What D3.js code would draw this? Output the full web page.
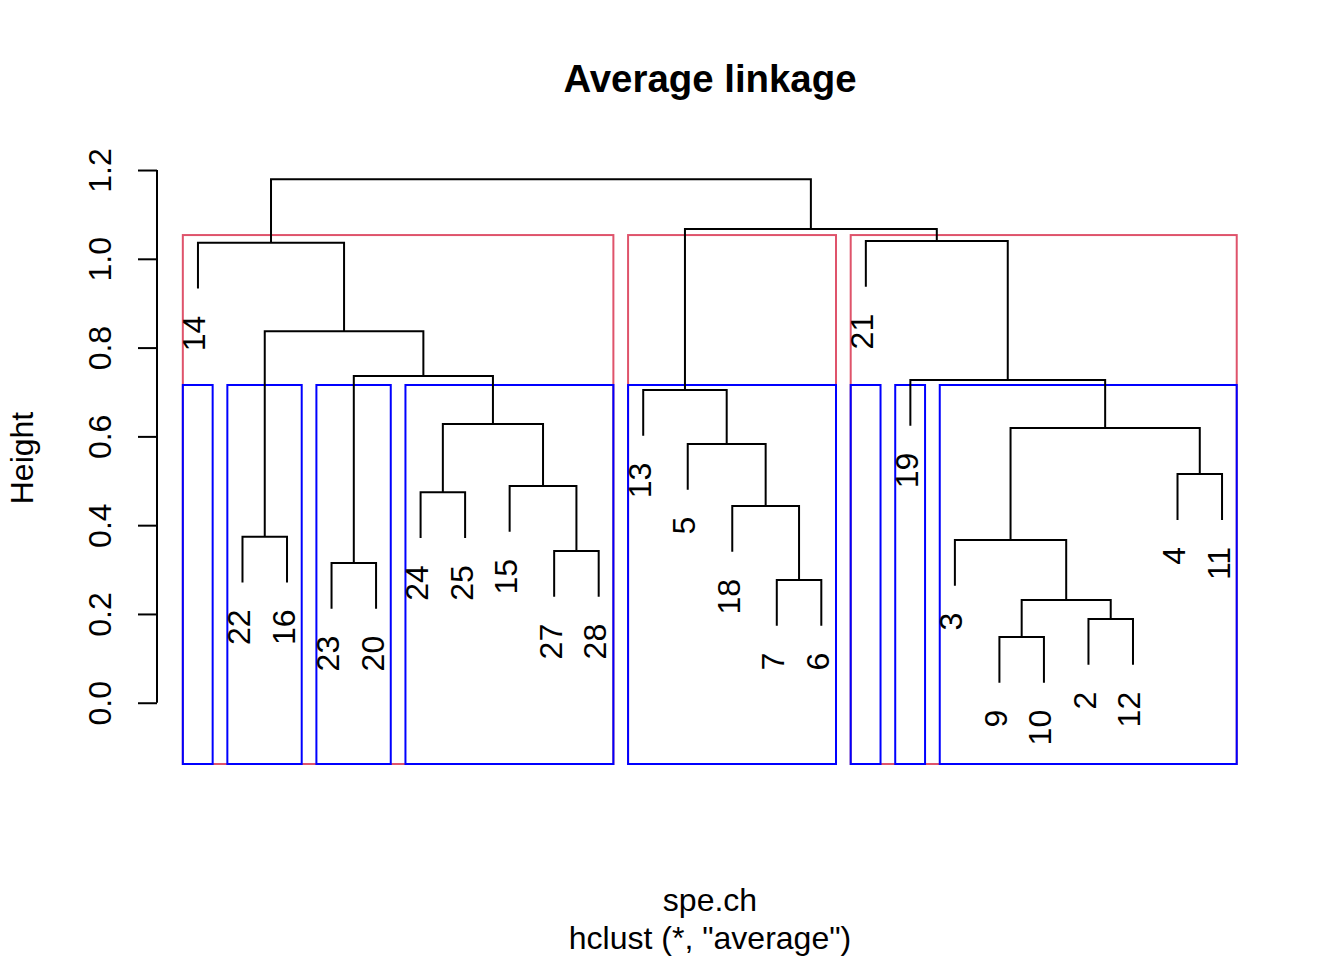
<!DOCTYPE html>
<html><head><meta charset="utf-8">
<script src="https://cdn.jsdelivr.net/npm/d3@7"></script>
<style>
body{margin:0;background:#fff;}
text{font-family:"Liberation Sans",Arial,Helvetica,sans-serif;fill:#000;}
</style>
</head><body><svg id="chart" width="1344" height="960"></svg>
<script>
// ---- data ----
const leafOrder = ["14","22","16","23","20","24","25","15","27","28","13","5","18","7","6","21","19","3","9","10","2","12","4","11"];
// hclust-style merge table: negative = leaf (site id), positive = earlier merge step (1-based)
const mergeLeft  = [-9, -2, 1, -7, -23, -27, -3, -22, -18, -24, -15, -4, -5,  7, 10, -13, -19,  5,  8, -14, -21, 16, 20];
const mergeRight = [-10,-12, 2, -6, -20, -28,  3, -16,   4, -25,   6,-11,  9, 12, 11,  13,  14, 15, 18,  19,  17, 21, 22];
const mergeHeight = [0.148,0.1886,0.2314,0.2764,0.3147,0.3417,0.3666,0.374,0.443,0.474,0.488,0.515,0.583,0.619,0.628,0.7045,0.727,0.736,0.837,1.036,1.040,1.067,1.179];
const yTicks = [0, 0.2, 0.4, 0.6, 0.8, 1.0, 1.2];
const yTickLabels = ["0.0","0.2","0.4","0.6","0.8","1.0","1.2"];
const rectK = [3, 8];
const rectColors = ["#DF536B", "#0000FF"];
const titleText = "Average linkage";
const xLabel = "spe.ch";
const subText = 'hclust (*, "average")';
const yLabel = "Height";

// ---- build tree ----
function ref(v){ return v < 0 ? {label: String(-v), height: 0, leaf: true} : nodes[v-1]; }
const nodes = [];
mergeHeight.forEach((h,i) => {
  nodes.push({height: h, children: [ref(mergeLeft[i]), ref(mergeRight[i])]});
});
const root = d3.hierarchy(nodes[nodes.length-1], d => d.leaf ? null : d.children);

const n = leafOrder.length;
const maxH = d3.max(mergeHeight), minH = d3.min(mergeHeight);
const hang = 0.1 * (maxH - minH);

// ---- scales ----
const x = d3.scaleLinear().domain([1 - 0.04*(n-1), n + 0.04*(n-1)]).range([157, 1263]);
const y = d3.scaleLinear().domain([-0.138, 1.2406]).range([764, 152]);

// positions
root.eachAfter(d => {
  if (!d.children) d.pos = leafOrder.indexOf(d.data.label) + 1;
  else d.pos = (d.children[0].pos + d.children[1].pos) / 2;
});
root.each(d => {
  if (!d.children) d.top = d.parent.data.height - hang;
  else d.top = d.data.height;
});

const svg = d3.select("#chart");

// ---- rect.hclust boxes ----
const sortedH = mergeHeight.slice().sort((a,b)=>b-a);
rectK.forEach((k, ki) => {
  const cutH = (sortedH[k-2] + sortedH[k-1]) / 2;
  const clusters = [];
  (function walk(d){
    if (!d.children || d.data.height < cutH) {
      const ps = d.leaves().map(l => l.pos);
      clusters.push([d3.min(ps), d3.max(ps)]);
    } else d.children.forEach(walk);
  })(root);
  clusters.forEach(([a,b]) => {
    const x0 = x(a - 0.34), x1 = x(b + 0.33);
    svg.append("rect")
      .attr("x", x0).attr("y", y(cutH))
      .attr("width", x1 - x0).attr("height", y.range()[0] - y(cutH))
      .attr("fill", "none").attr("stroke", rectColors[ki]).attr("stroke-width", 2);
  });
});

// ---- dendrogram segments ----
const g = svg.append("g");
root.descendants().filter(d => d.children).forEach(d => {
  const [l, r] = d.children;
  g.append("path")
    .attr("d", `M${x(l.pos)},${y(l.top)}V${y(d.data.height)}H${x(r.pos)}V${y(r.top)}`)
    .attr("fill", "none").attr("stroke", "#000").attr("stroke-width", 2);
});

// leaf labels
root.leaves().forEach(d => {
  svg.append("text")
    .attr("transform", `translate(${x(d.pos) + 7.5},${y(d.top) + 27}) rotate(-90)`)
    .attr("text-anchor", "end")
    .style("font-size", "32px")
    .text(d.data.label);
});

// ---- y axis ----
const axis = d3.axisLeft(y).tickValues(yTicks).tickSize(19).tickFormat((v,i) => yTickLabels[i]);
const ag = svg.append("g").attr("transform", "translate(157,0)").call(axis);
ag.select(".domain").remove();
ag.selectAll(".tick line").attr("stroke", "#000").attr("stroke-width", 2);
ag.selectAll(".tick text")
  .attr("x", null).attr("dy", null).attr("y", null)
  .attr("transform", "translate(-46,0) rotate(-90)")
  .attr("text-anchor", "middle")
  .attr("fill", "#000")
  .style("font-size", "32px")
  .style("font-family", '"Liberation Sans",Arial,sans-serif');
ag.append("line").attr("x1", 0).attr("x2", 0)
  .attr("y1", y(yTicks[0])).attr("y2", y(yTicks[yTicks.length-1]))
  .attr("stroke", "#000").attr("stroke-width", 2);

// ---- titles ----
const cx = (x.range()[0] + x.range()[1]) / 2;
svg.append("text").attr("x", cx).attr("y", 92).attr("text-anchor", "middle")
  .style("font-size", "38.4px").style("font-weight", "bold").text(titleText);
svg.append("text").attr("x", cx).attr("y", 911).attr("text-anchor", "middle")
  .style("font-size", "32px").text(xLabel);
svg.append("text").attr("x", cx).attr("y", 949).attr("text-anchor", "middle")
  .style("font-size", "32px").text(subText);
svg.append("text").attr("transform", "translate(33,458) rotate(-90)").attr("text-anchor", "middle")
  .style("font-size", "32px").text(yLabel);
</script>
</body></html>
